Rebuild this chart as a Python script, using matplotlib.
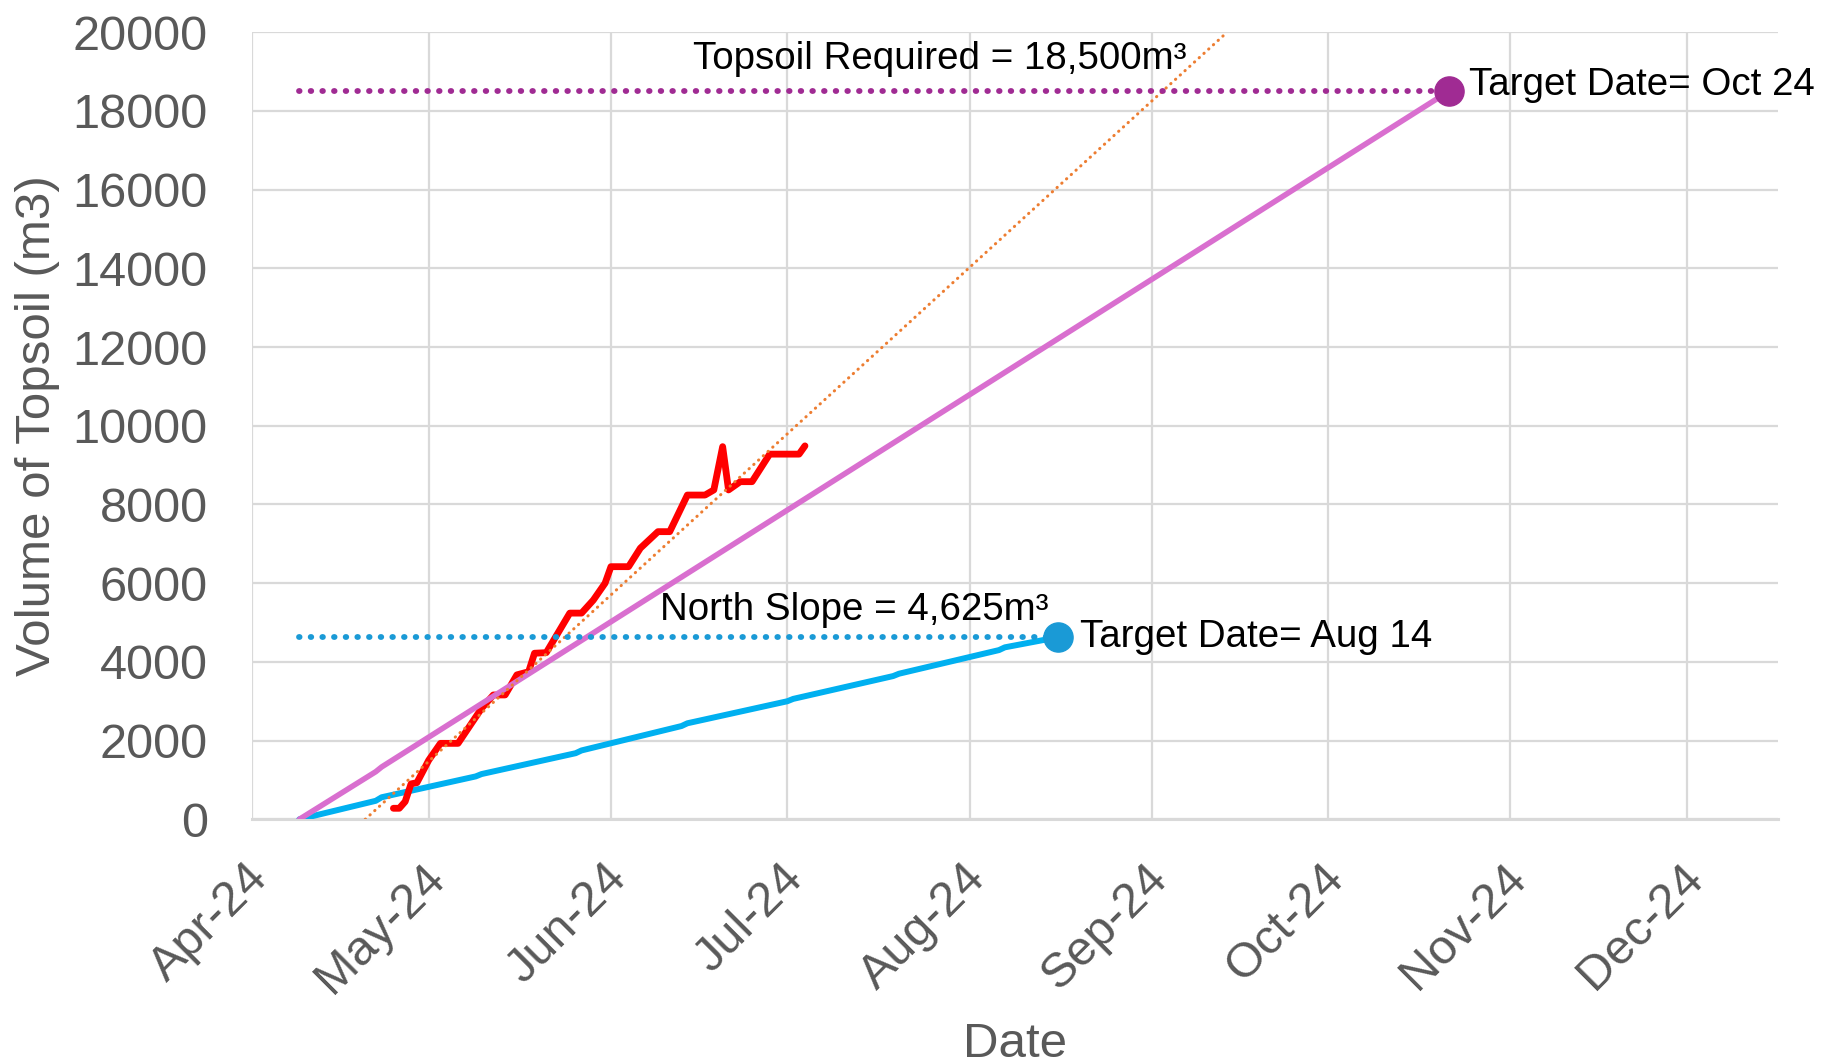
import matplotlib
matplotlib.use('Agg')
import matplotlib.pyplot as plt
import matplotlib.dates as mdates
import matplotlib.transforms as mtrans
import pandas as pd

plt.rcParams['font.family'] = ['Liberation Sans', 'DejaVu Sans']

# ---------------- data ----------------
actual_dates = ['2024-04-25', '2024-04-26', '2024-04-27', '2024-04-28', '2024-04-29',
                '2024-05-01', '2024-05-03', '2024-05-06', '2024-05-10', '2024-05-12',
                '2024-05-14', '2024-05-16', '2024-05-18', '2024-05-19', '2024-05-21',
                '2024-05-25', '2024-05-27', '2024-05-29', '2024-05-31', '2024-06-01',
                '2024-06-04', '2024-06-06', '2024-06-09', '2024-06-11', '2024-06-14',
                '2024-06-17', '2024-06-18 12:00', '2024-06-20', '2024-06-21', '2024-06-23',
                '2024-06-25', '2024-06-28', '2024-07-03', '2024-07-04']
actual_vals = [280, 280, 450, 900, 930,
               1500, 1930, 1930, 2820, 3160,
               3160, 3670, 3750, 4220, 4235,
               5240, 5240, 5570, 6000, 6420,
               6420, 6890, 7310, 7310, 8240,
               8240, 8370, 9470, 8370, 8580,
               8580, 9280, 9280, 9490]

total_plan_dates = ['2024-04-09', '2024-04-22', '2024-04-23', '2024-10-21 12:00']
total_plan_vals = [0, 1210, 1330, 18500]

north_plan_dates = ['2024-04-09', '2024-04-22', '2024-04-23', '2024-05-09', '2024-05-10',
                    '2024-05-26', '2024-05-27', '2024-06-13', '2024-06-14', '2024-07-01',
                    '2024-07-02', '2024-07-19', '2024-07-20', '2024-08-06', '2024-08-07',
                    '2024-08-16']
north_plan_vals = [0, 470, 560, 1090, 1150,
                   1680, 1750, 2370, 2440, 3000,
                   3060, 3640, 3700, 4300, 4370,
                   4625]

trend_dates = ['2024-04-20 05:00', '2024-09-13 19:00']
trend_vals = [0, 20000]

total_required = 18500
north_required = 4625
start_date = '2024-04-09'
total_target_date = '2024-10-21 12:00'
north_target_date = '2024-08-16'

x_min = '2024-04-01'
x_max = '2024-12-16 12:00'
y_ticks = list(range(0, 20001, 2000))

# ---------------- figure ----------------
W, H = 1833, 1064
fig = plt.figure(figsize=(W / 100, H / 100), dpi=100)
ax = fig.add_axes([252.3 / W, 1 - 819.3 / H, (1778 - 252.3) / W, (819.3 - 32.3) / H])


def td(v):
    return pd.to_datetime(v, format='mixed')


grid_c = '#D9D9D9'
txt_c = '#595959'

ax.plot(td(north_plan_dates), north_plan_vals, color='#00B0F0', lw=4.3,
        solid_capstyle='round', solid_joinstyle='round', zorder=3)
ax.plot(td(actual_dates), actual_vals, color='#FF0000', lw=4.9,
        solid_capstyle='round', solid_joinstyle='round', zorder=4)
ax.plot(td(total_plan_dates), total_plan_vals, color='#D96FCF', lw=4.0,
        solid_capstyle='round', solid_joinstyle='round', zorder=5)
ax.plot(td(trend_dates), trend_vals, color='#ED7D31', lw=2.2,
        dashes=(0.1, 2.0), dash_capstyle='round', zorder=6)

ax.plot(td([start_date, total_target_date]), [total_required, total_required],
        color='#A02B93', lw=4.2, dashes=(0.1, 1.9), dash_capstyle='round', zorder=6)
ax.plot(td([start_date, north_target_date]), [north_required, north_required],
        color='#1A9AD6', lw=4.2, dashes=(0.1, 1.9), dash_capstyle='round', zorder=6)

ax.plot(td([total_target_date]), [total_required], 'o', color='#A02B93', ms=21, zorder=7)
ax.plot(td([north_target_date]), [north_required], 'o', color='#1A9AD6', ms=21, zorder=7)

ann_fs = 27.7
ax.text(td('2024-06-14 22:00'), 19330, 'Topsoil Required = 18,500m³', fontsize=ann_fs,
        ha='left', va='center', color='black', zorder=8)
ax.text(td('2024-10-25'), 18660, 'Target Date= Oct 24', fontsize=ann_fs,
        ha='left', va='center', color='black', zorder=8)
ax.text(td('2024-06-09 10:00'), 5320, 'North Slope = 4,625m³', fontsize=ann_fs,
        ha='left', va='center', color='black', zorder=8)
ax.text(td('2024-08-19 20:00'), 4640, 'Target Date= Aug 14', fontsize=ann_fs,
        ha='left', va='center', color='black', zorder=8)

# axes
ax.set_xlim(td(x_min), td(x_max))
ax.set_ylim(0, 20000)
ax.set_yticks(y_ticks)
ax.xaxis.set_major_locator(mdates.MonthLocator())
ax.xaxis.set_major_formatter(mdates.DateFormatter('%b-%y'))
ax.grid(True, color=grid_c, lw=1.6)
ax.set_axisbelow(True)
for s in ['top', 'right', 'left']:
    ax.spines[s].set_visible(False)
ax.spines['bottom'].set_color(grid_c)
ax.spines['bottom'].set_linewidth(2.2)

ax.tick_params(axis='both', length=0, labelsize=35, labelcolor=txt_c)
ax.tick_params(axis='y', pad=32)
ax.tick_params(axis='x', pad=26)
offset = mtrans.ScaledTranslation(-7 / 100, 0, fig.dpi_scale_trans)
for lbl in ax.get_xticklabels():
    lbl.set_rotation(45)
    lbl.set_ha('right')
    lbl.set_va('top')
    lbl.set_rotation_mode('anchor')
    lbl.set_transform(lbl.get_transform() + offset)

ax.set_ylabel('Volume of Topsoil (m3)', fontsize=35.5, color=txt_c)
ax.yaxis.set_label_coords(-0.141, 0.5)
ax.set_xlabel('Date', fontsize=35.5, color=txt_c)
ax.xaxis.set_label_coords(0.5, -0.286)
ax.xaxis.label.set_va('center')
ax.yaxis.label.set_va('center')

fig.savefig('out.png', dpi=100)
